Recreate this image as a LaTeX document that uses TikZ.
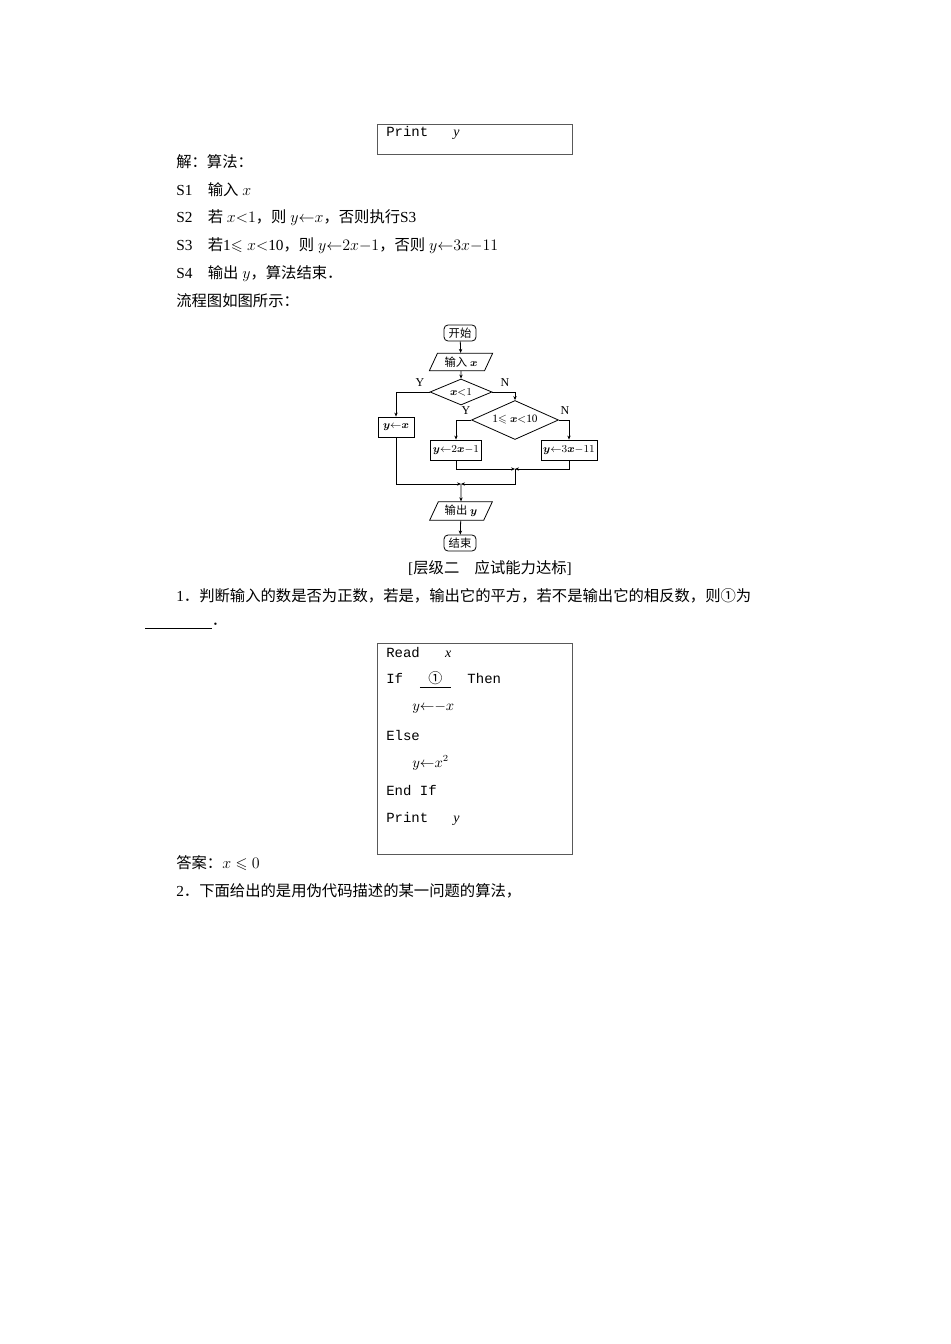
\documentclass[tikz,border=0pt]{standalone}
\usepackage{amsmath,amssymb,bm}
\usepackage{fontspec}
\setmainfont{Liberation Serif}
\setmonofont{Liberation Mono}
\newfontfamily\cjk{Noto Sans CJK SC}
\newcommand{\zh}[1]{{\cjk #1}}
\usetikzlibrary{shapes.geometric,arrows.meta}
\begin{document}
\begin{tikzpicture}[x=0.75pt,y=-0.75pt,
  txt/.style={anchor=west,inner sep=0pt,font=\fontsize{11.5}{13}\selectfont},
  code/.style={anchor=west,inner sep=0pt,font=\ttfamily\fontsize{10.5}{12}\selectfont},
  fc/.style={font=\fontsize{8.5}{9}\selectfont,inner sep=1pt},
  sbox/.style={fc,draw,minimum height=15pt,line width=0.6pt},
  term/.style={fc,draw,rounded corners=3pt,minimum width=24pt,minimum height=12pt,line width=0.6pt},
  para/.style={fc,draw,trapezium,trapezium left angle=65,trapezium right angle=115,minimum width=47pt,minimum height=13pt,line width=0.6pt},
  dia/.style={fc,draw,diamond,aspect=2.4,inner sep=0pt,line width=0.6pt},
  ln/.style={line width=0.6pt},
  ar/.style={ln,-{Stealth[length=3pt,width=2.5pt]}}]
\useasboundingbox (0,0) rectangle (950,1344);
% top box
\draw[ln,gray!70!black] (377,124) rectangle (572,154);
\node[code] (tp) at (386,133) {Print\ \ \ \textrm{\itshape y}};
\node[txt] (l1) at (176,162) {\zh{解：算法：}};
\node[txt] (l2) at (176,190) {S1\quad\zh{输入} $x$};
\node[txt] (l3) at (176,218) {S2\quad\zh{若} $x{<}1$\zh{，则} $y{\leftarrow}x$\zh{，否则执行}S3};
\node[txt] (l4) at (176,246) {S3\quad\zh{若}1$\leqslant x{<}$10\zh{，则} $y{\leftarrow}2x{-}1$\zh{，否则} $y{\leftarrow}3x{-}11$};
\node[txt] (l5) at (176,274) {S4\quad\zh{输出} $y$\zh{，算法结束．}};
\node[txt] (l6) at (176,301) {\zh{流程图如图所示：}};
% flowchart
\node[term] (st) at (460,333) {\zh{开始}};
\node[para] (in) at (461,362) {\zh{输入} $\bm{x}$};
\node[dia,minimum width=62*0.75pt,minimum height=26*0.75pt] (d1) at (461,392) {$\bm{x}{<}1$};
\node[dia,minimum width=87*0.75pt,minimum height=39*0.75pt] (d2) at (515,420) {1$\leqslant\bm{x}{<}$10};
\node[sbox,minimum width=36*0.75pt] (b1) at (396,427) {$\bm{y}{\leftarrow}\bm{x}$};
\node[sbox,minimum width=51*0.75pt] (b2) at (456,450) {$\bm{y}{\leftarrow}2\bm{x}{-}1$};
\node[sbox,minimum width=56*0.75pt] (b3) at (569,450) {$\bm{y}{\leftarrow}3\bm{x}{-}11$};
\node[para] (out) at (461,511) {\zh{输出} $\bm{y}$};
\node[term] (en) at (460,543) {\zh{结束}};
\coordinate (j1) at (515,469);
\coordinate (j2) at (461,484);
\draw[ar] (st) -- (in);
\draw[ar] (in) -- (d1);
\draw[ar] (d1.west) -| (b1.north);
\draw[ar] (d1.east) -| (d2.north);
\draw[ar] (d2.west) -| (b2.north);
\draw[ar] (d2.east) -| (b3.north);
\draw[ar] (b2.south) |- (j1);
\draw[ar] (b3.south) |- (j1);
\draw[ar] (b1.south) |- (j2);
\draw[ar] (j1) |- (j2);
\draw[ar] (j2) -- (out);
\draw[ar] (out) -- (en);
\node[fc,font=\fontsize{9}{10}\selectfont] (y1) at (420,383) {Y};
\node[fc,font=\fontsize{9}{10}\selectfont] (n1) at (505,383) {N};
\node[fc,font=\fontsize{9}{10}\selectfont] (y2) at (466,411) {Y};
\node[fc,font=\fontsize{9}{10}\selectfont] (n2) at (565,411) {N};
% section
\node[txt,anchor=center] (hd) at (490,568) {[\zh{层级二}\quad\zh{应试能力达标}]};
\node[txt] (q1) at (176,596) {1\zh{．判断输入的数是否为正数，若是，输出它的平方，若不是输出它的相反数，则①为}};
\node[txt] (bl) at (145,626) {\rule[-2pt]{50pt}{0.4pt}\zh{．}};
\draw[ln,gray!70!black] (377,643) rectangle (572,854);
\node[code] (c1) at (386,653) {Read\ \ \ \textrm{\itshape x}};
\node[code] (c2) at (386,680) {If\ \ \underline{\ \zh{①}\ }\ \ Then};
\node[code] (c3) at (412,708) {$y{\leftarrow}{-}x$};
\node[code] (c4) at (386,735) {Else};
\node[code] (c5) at (412,763) {$y{\leftarrow}x^2$};
\node[code] (c6) at (386,791) {End If};
\node[code] (c7) at (386,819) {Print\ \ \ \textrm{\itshape y}};
\node[txt] (ans) at (176,863) {\zh{答案：}$x\leqslant 0$};
\node[txt] (q2) at (176,891) {2\zh{．下面给出的是用伪代码描述的某一问题的算法，}};
\end{tikzpicture}
\end{document}
